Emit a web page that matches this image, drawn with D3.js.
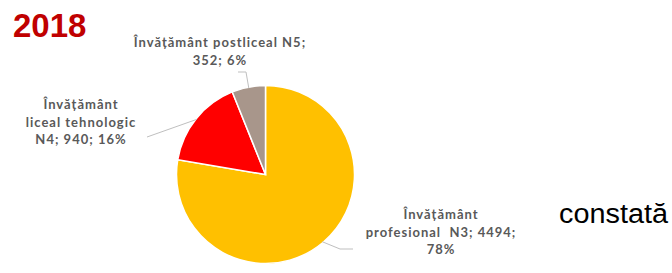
<!DOCTYPE html>
<html><head><meta charset="utf-8">
<script src="https://cdn.jsdelivr.net/npm/d3@7"></script>
<style>body{margin:0;background:#fff}svg{display:block}text{white-space:pre}</style>
</head><body>
<script>
const categories = ["Învățământ profesional  N3", "Învățământ liceal tehnologic N4", "Învățământ postliceal N5"];
const values = [4494, 940, 352];
const percents = ["78%", "16%", "6%"];
const colors = ["#FFC000", "#FF0000", "#A8968B"];
const title = "2018";
const sideText = "constată";

const W = 672, H = 273;
const svg = d3.select("body").append("svg").attr("width", W).attr("height", H);
const cx = 265.5, cy = 174.5, r = 89;

const pie = d3.pie().sort(null).value(d => d)(values);
const arc = d3.arc().innerRadius(0).outerRadius(r);
const g = svg.append("g").attr("transform", `translate(${cx},${cy})`);
g.selectAll("path").data(pie).join("path")
  .attr("d", arc).attr("fill", (d, i) => colors[i])
  .attr("stroke", "#fff").attr("stroke-width", 1.5);

// leader lines: from slice edge outward
const labelAnchors = [[353 - cx, 249 - cy], [147 - cx, 137 - cy], [245 - cx, 72 - cy]];
const elbows = [[340 - cx, 249 - cy], null, [246 - cx, 72 - cy]];
const outer = d3.arc().innerRadius(r - 1).outerRadius(r - 1);
pie.forEach((d, i) => {
  const p0 = outer.centroid(d);
  const pts = [p0];
  if (elbows[i]) pts.push(elbows[i]);
  pts.push(labelAnchors[i]);
  if (i === 2) pts.push([238 - cx, 72 - cy]);
  g.append("path").attr("d", d3.line()(pts))
    .attr("fill", "none").attr("stroke", "#bfbfbf").attr("stroke-width", 1);
});

const lblFont = "'Lato', 'DejaVu Sans', sans-serif";
function label(lines, x, y0, dy) {
  const t = svg.append("text").attr("text-anchor", "middle")
    .attr("font-family", lblFont).attr("font-weight", "bold")
    .attr("font-size", 13).attr("letter-spacing", 1).attr("fill", "#595959");
  lines.forEach((s, k) => t.append("tspan").attr("x", x).attr("y", y0 + k * dy).text(s));
}
label([categories[2] + ";", values[2] + "; " + percents[2]], 220, 47, 18);
label(["Învățământ", "liceal tehnologic", "N4; " + values[1] + "; " + percents[1]], 81, 109, 17.5);
label(["Învățământ", "profesional  N3; " + values[0] + ";", percents[0]], 441, 219, 17.5);

svg.append("text").attr("x", 13).attr("y", 37)
  .attr("font-family", "'Liberation Sans', Arial, sans-serif").attr("font-weight", "bold")
  .attr("font-size", 33).attr("fill", "#C00000").text(title);

svg.append("text").attr("x", 559).attr("y", 223)
  .attr("font-family", "'Liberation Sans', Arial, sans-serif")
  .attr("font-size", 27).attr("fill", "#000")
  .attr("textLength", 109).attr("lengthAdjust", "spacingAndGlyphs").text(sideText);
</script>
</body></html>
